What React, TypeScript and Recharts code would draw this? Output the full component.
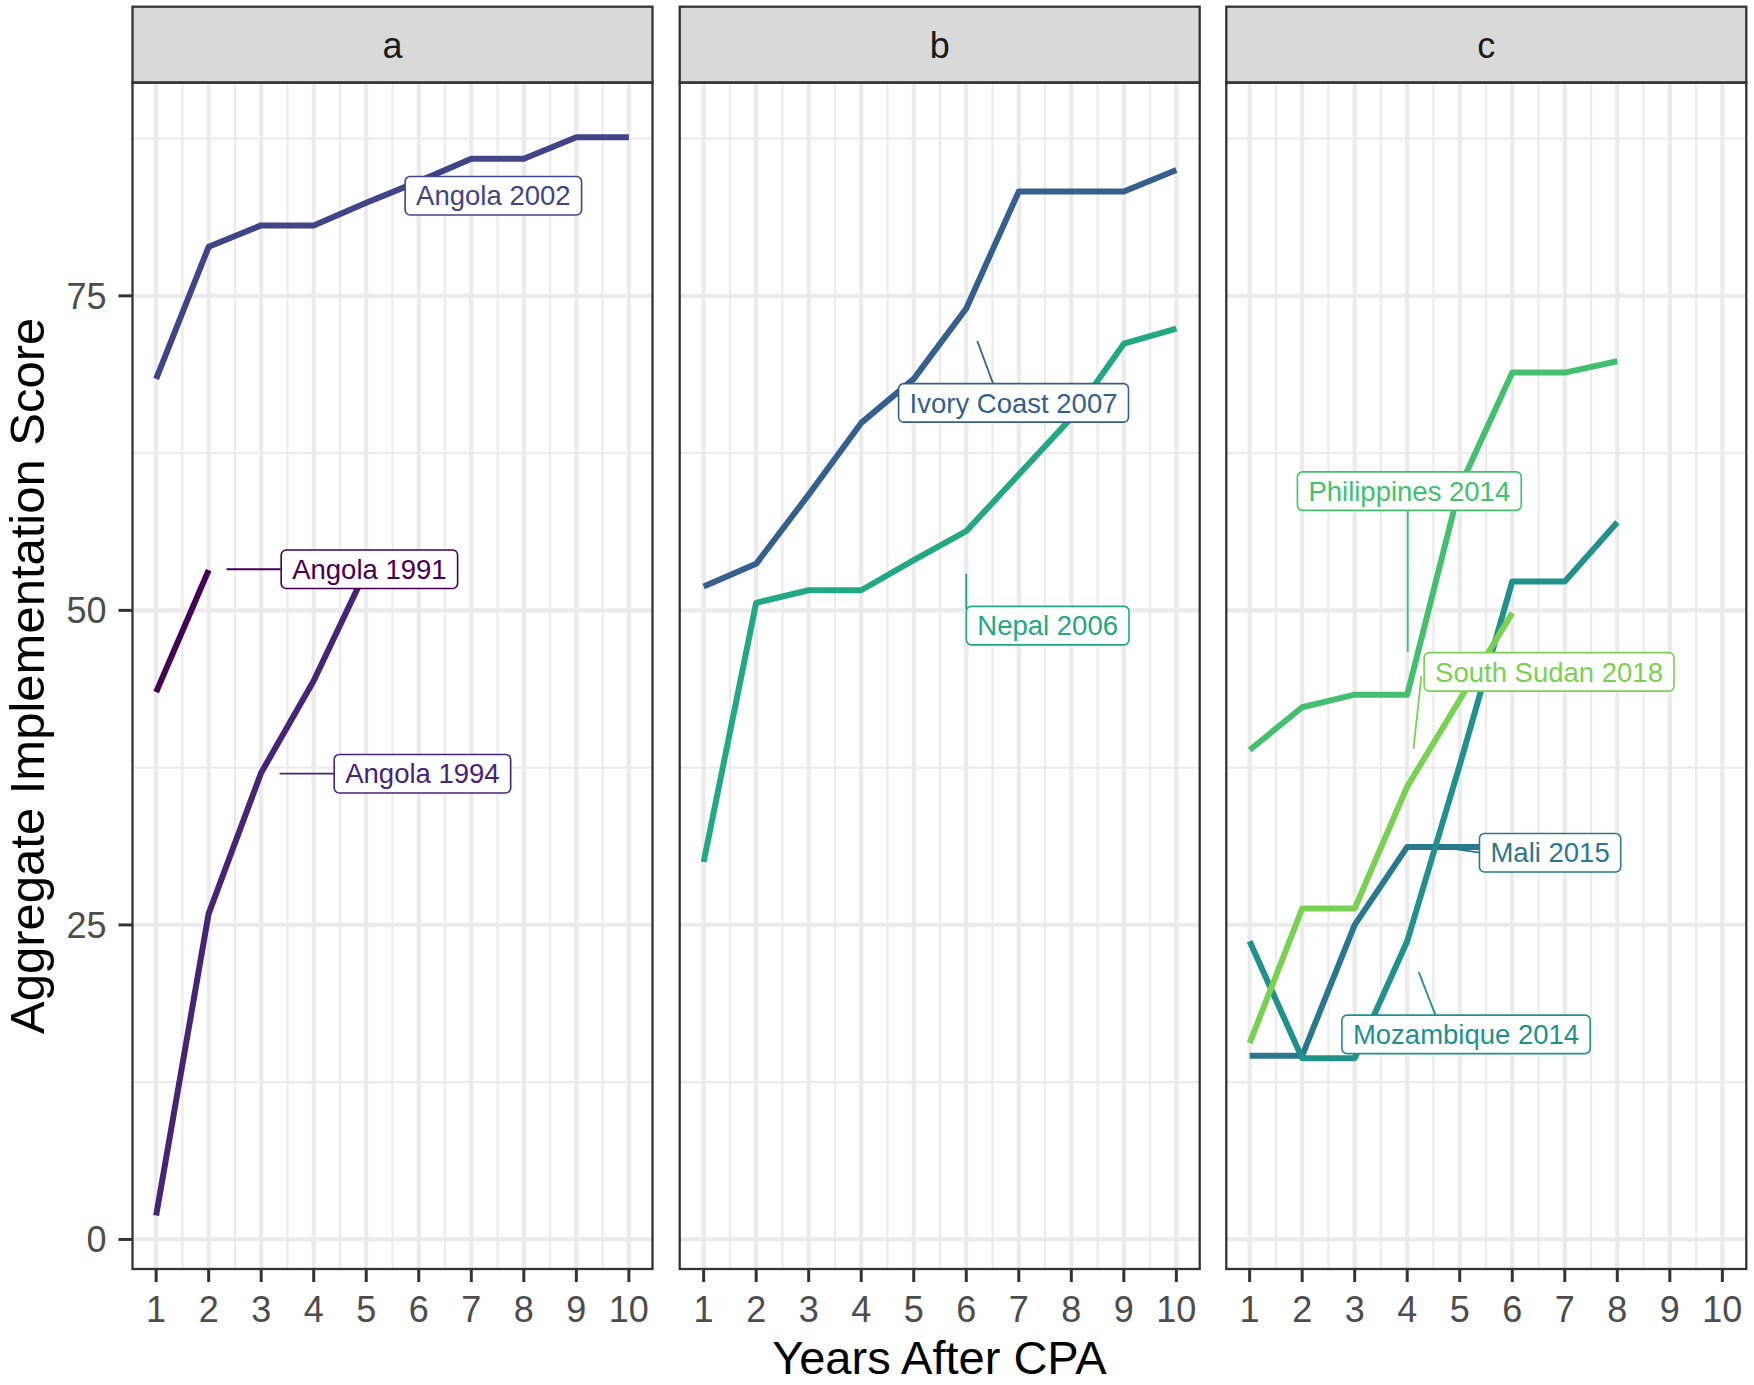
import React from 'react';
import { LineChart, Line, XAxis, YAxis, CartesianGrid, ReferenceDot, ReferenceLine } from 'recharts';

const FONT = "'Liberation Sans', Arial, Helvetica, sans-serif";

// ---- data ----
const years = [1, 2, 3, 4, 5, 6, 7, 8, 9, 10];
const xTicks = [1, 2, 3, 4, 5, 6, 7, 8, 9, 10];
const xMinor = [1.5, 2.5, 3.5, 4.5, 5.5, 6.5, 7.5, 8.5, 9.5];
const yTicks = [0, 25, 50, 75];
const yMinor = [12.5, 37.5, 62.5, 87.5];
const panelTitles = ['a', 'b', 'c'];

const angola1991 = [43.5, 53.2];
const angola1994 = [1.9, 25.9, 37.1, 44.4, 53.2];
const angola2002 = [68.4, 78.9, 80.6, 80.6, 82.4, 84.1, 85.9, 85.9, 87.6, 87.6];
const ivoryCoast2007 = [51.9, 53.7, 59.2, 64.9, 68.4, 74.0, 83.3, 83.3, 83.3, 85.0];
const nepal2006 = [30.0, 50.6, 51.6, 51.6, 54.0, 56.3, 60.8, 65.3, 71.2, 72.4];
const mali2015 = [14.6, 14.6, 25.0, 31.2, 31.2, 31.2, 31.2];
const mozambique2014 = [23.7, 14.4, 14.4, 23.7, 37.7, 52.3, 52.3, 57.0];
const philippines2014 = [38.9, 42.3, 43.3, 43.3, 59.8, 68.9, 68.9, 69.8];
const southSudan2018 = [15.6, 26.3, 26.3, 36.0, 42.9, 49.8];

// label anchors (data coordinates)
const labelAngola1991 = { x: 5.06, y: 53.27, seg: [[2.34, 53.27], [3.37, 53.27]] };
const labelAngola1994 = { x: 6.07, y: 37.02, seg: [[3.35, 37.02], [4.39, 37.02]] };
const labelAngola2002 = { x: 7.42, y: 82.96, seg: null };
const labelIvory = { x: 6.9, y: 66.49, seg: [[6.21, 71.41], [6.51, 68.03]] };
const labelNepal = { x: 7.55, y: 48.79, seg: [[6.0, 52.92], [6.0, 50.1]] };
const labelMali = { x: 6.72, y: 30.74, seg: [[4.59, 31.22], [5.38, 30.74]] };
const labelMozambique = { x: 5.12, y: 16.3, seg: [[4.22, 21.25], [4.54, 17.81]] };
const labelPhilippines = { x: 4.04, y: 59.48, seg: [[4.01, 57.95], [4.01, 46.69]] };
const labelSouthSudan = { x: 6.7, y: 45.11, seg: [[4.12, 39.0], [4.27, 44.78]] };

const toPoints = (vals: number[]) => vals.map((v, i) => ({ x: years[i], y: v }));

const panels = [
  [
    { name: 'Angola 1991', color: '#440154', values: angola1991, label: labelAngola1991 },
    { name: 'Angola 1994', color: '#482475', values: angola1994, label: labelAngola1994 },
    { name: 'Angola 2002', color: '#414487', values: angola2002, label: labelAngola2002 },
  ],
  [
    { name: 'Ivory Coast 2007', color: '#355F8D', values: ivoryCoast2007, label: labelIvory },
    { name: 'Nepal 2006', color: '#22A884', values: nepal2006, label: labelNepal },
  ],
  [
    { name: 'Mali 2015', color: '#2A788E', values: mali2015, label: labelMali },
    { name: 'Mozambique 2014', color: '#21918C', values: mozambique2014, label: labelMozambique },
    { name: 'Philippines 2014', color: '#44BF70', values: philippines2014, label: labelPhilippines },
    { name: 'South Sudan 2018', color: '#7AD151', values: southSudan2018, label: labelSouthSudan },
  ],
];

// ---- layout ----
const W = 1754;
const H = 1385;
const PANEL_LEFTS = [132.5, 679.7, 1226.3];
const PANEL_W = 520;
const PLOT_TOP = 82.6;
const PLOT_BOTTOM = 1269;
const STRIP_TOP = 6.7;
const LABEL_FONT = 27.5;

let ctx: CanvasRenderingContext2D | null = null;
const measure = (t: string) => {
  if (!ctx) ctx = document.createElement('canvas').getContext('2d');
  if (!ctx) return t.length * LABEL_FONT * 0.55;
  ctx.font = `${LABEL_FONT}px 'Liberation Sans', Arial`;
  return ctx.measureText(t).width;
};

const LabelBox = ({ cx, cy, text, color }: { cx: number; cy: number; text: string; color: string }) => {
  const w = measure(text) + 22;
  const h = 38.5;
  return (
    <g>
      <rect x={cx - w / 2} y={cy - h / 2} width={w} height={h} rx={5} ry={5} fill="#ffffff" stroke={color} strokeWidth={1.6} />
      <text x={cx} y={cy + LABEL_FONT * 0.355} textAnchor="middle" fill={color} fontSize={LABEL_FONT} fontFamily={FONT}>
        {text}
      </text>
    </g>
  );
};

const Panel = ({ idx }: { idx: number }) => {
  const series = panels[idx];
  const showY = idx === 0;
  const yAxisW = showY ? PANEL_LEFTS[0] : 0;
  const chartLeft = PANEL_LEFTS[idx] - yAxisW;
  const chartW = PANEL_W + yAxisW;
  return (
    <div style={{ position: 'absolute', left: chartLeft, top: 0 }}>
      <LineChart width={chartW} height={H} margin={{ top: PLOT_TOP, right: 0, bottom: 0, left: 0 }}>
        <CartesianGrid horizontalValues={yMinor} verticalValues={xMinor} stroke="#EBEBEB" strokeWidth={2.2} />
        <CartesianGrid horizontalValues={yTicks} verticalValues={xTicks} stroke="#EBEBEB" strokeWidth={4.2} />
        <XAxis
          dataKey="x"
          type="number"
          domain={[0.55, 10.45]}
          allowDataOverflow
          ticks={xTicks}
          interval={0}
          height={H - PLOT_BOTTOM}
          axisLine={false}
          tickSize={13}
          tickMargin={14}
          tickLine={{ stroke: '#333333', strokeWidth: 3 }}
          tick={{ fill: '#4D4D4D', fontSize: 36, fontFamily: FONT }}
        />
        <YAxis
          type="number"
          domain={[-2.35, 91.95]}
          allowDataOverflow
          ticks={yTicks}
          interval={0}
          width={yAxisW}
          hide={!showY}
          axisLine={false}
          tickSize={14}
          tickMargin={12}
          tickLine={{ stroke: '#333333', strokeWidth: 3 }}
          tick={{ fill: '#4D4D4D', fontSize: 36, fontFamily: FONT }}
        />
        {series.map((s) => (
          <Line
            key={s.name}
            data={toPoints(s.values)}
            dataKey="y"
            type="linear"
            stroke={s.color}
            strokeWidth={6}
            strokeLinejoin="round"
            dot={false}
            activeDot={false}
            isAnimationActive={false}
          />
        ))}
        {series.map((s) =>
          s.label.seg ? (
            <ReferenceLine
              key={s.name + '-seg'}
              segment={[
                { x: s.label.seg[0][0], y: s.label.seg[0][1] },
                { x: s.label.seg[1][0], y: s.label.seg[1][1] },
              ]}
              stroke={s.color}
              strokeWidth={1.8}
              zIndex={2400}
            />
          ) : null
        )}
        {series.map((s) => (
          <ReferenceDot
            key={s.name + '-label'}
            x={s.label.x}
            y={s.label.y}
            r={0}
            zIndex={2500}
            shape={(p: any) => <LabelBox cx={p.cx} cy={p.cy} text={s.name} color={s.color} />}
          />
        ))}
      </LineChart>
    </div>
  );
};

export default function App() {
  return (
    <div style={{ position: 'absolute', left: 0, top: 0, width: W, height: H, background: '#ffffff', fontFamily: FONT }}>
      {[0, 1, 2].map((i) => (
        <Panel key={i} idx={i} />
      ))}
      <svg width={W} height={H} style={{ position: 'absolute', left: 0, top: 0, pointerEvents: 'none' }}>
        {PANEL_LEFTS.map((l, i) => (
          <g key={i}>
            <rect x={l} y={STRIP_TOP} width={PANEL_W} height={PLOT_TOP - STRIP_TOP} fill="#D9D9D9" stroke="#333333" strokeWidth={2.3} />
            <text x={l + PANEL_W / 2} y={57.5} textAnchor="middle" fontSize={36} fill="#1A1A1A" fontFamily={FONT}>
              {panelTitles[i]}
            </text>
            <rect x={l} y={PLOT_TOP} width={PANEL_W} height={PLOT_BOTTOM - PLOT_TOP} fill="none" stroke="#333333" strokeWidth={2.3} />
          </g>
        ))}
        <text x={(PANEL_LEFTS[0] + PANEL_LEFTS[2] + PANEL_W) / 2} y={1374} textAnchor="middle" fontSize={47} fill="#000000" fontFamily={FONT}>
          Years After CPA
        </text>
        <text
          x={44}
          y={(PLOT_TOP + PLOT_BOTTOM) / 2}
          textAnchor="middle"
          fontSize={49}
          fill="#000000"
          fontFamily={FONT}
          transform={`rotate(-90, 44, ${(PLOT_TOP + PLOT_BOTTOM) / 2})`}
        >
          Aggregate Implementation Score
        </text>
      </svg>
    </div>
  );
}
